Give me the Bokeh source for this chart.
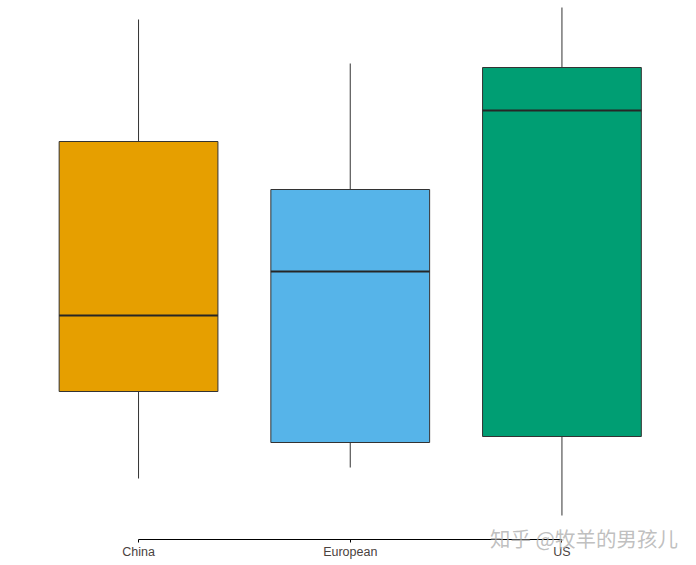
from bokeh.plotting import figure
from bokeh.models import Range1d, FixedTicker, Div
from bokeh.layouts import column
from bokeh.embed import file_html
from bokeh.resources import INLINE

# Data (arbitrary units; no y-axis in the reference)
categories = ["China", "European", "US"]
lower = [15.25, 18.0, 6.0]
q1 = [37.0, 24.25, 25.75]
median = [56.0, 67.0, 107.25]
q3 = [99.5, 87.5, 118.0]
upper = [130.0, 119.0, 133.0]
colors = ["#E69F00", "#56B4E9", "#009E73"]
watermark = "知乎 @牧羊的男孩儿"

xs = list(range(len(categories)))

p = figure(width=680, height=561, output_backend="svg", toolbar_location=None,
           x_range=Range1d(-0.652, 2.56), y_range=Range1d(0, 134.75),
           min_border_left=0, min_border_right=0, min_border_top=0, min_border_bottom=22)
p.outline_line_color = None
p.grid.visible = False
p.yaxis.visible = False
p.background_fill_color = "white"

# whiskers
p.segment(x0=xs, y0=q3, x1=xs, y1=upper, line_color="#333333", line_width=1)
p.segment(x0=xs, y0=lower, x1=xs, y1=q1, line_color="#333333", line_width=1)
# boxes
p.vbar(x=xs, width=0.75, bottom=q1, top=q3, fill_color=colors,
       line_color="#333333", line_width=1)
# medians
p.segment(x0=[x - 0.375 for x in xs], y0=median, x1=[x + 0.375 for x in xs], y1=median,
          line_color="#262626", line_width=2)

ax = p.xaxis[0]
ax.ticker = FixedTicker(ticks=xs)
ax.major_label_overrides = {i: c for i, c in enumerate(categories)}
ax.bounds = (0, len(categories) - 1)
ax.minor_tick_line_color = None
ax.major_tick_out = 3
ax.major_tick_in = 0
ax.major_label_standoff = 2
ax.major_label_text_font = "Liberation Sans"
ax.major_label_text_font_size = "12.5px"
ax.major_label_text_color = "#4a4240"
ax.axis_line_color = "black"
ax.major_tick_line_color = "black"

wm = Div(text=watermark, width=190, height=25, margin=(-35, 0, 0, 490),
         styles={"font-family": "Noto Sans CJK SC", "font-size": "20.5px",
                 "color": "rgba(175,175,175,0.8)", "line-height": "25px",
                 "white-space": "nowrap"})

layout = column(p, wm, spacing=0)
open("out.html", "w").write(file_html(layout, INLINE))
